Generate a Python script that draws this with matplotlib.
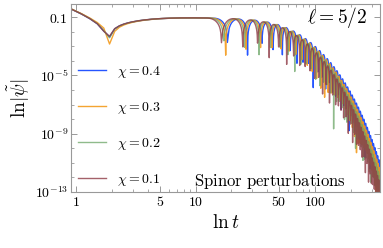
import numpy as np
import matplotlib
matplotlib.use('Agg')
import matplotlib.pyplot as plt
from matplotlib.ticker import FixedLocator, FixedFormatter, NullFormatter

plt.rcParams['mathtext.fontset'] = 'cm'
plt.rcParams['font.family'] = 'serif'
plt.rcParams['font.serif'] = ['DejaVu Serif']

# curves, top of legend first
chi_values = [0.4, 0.3, 0.2, 0.1]
colors = ['#1a4cff', '#f39a1c', '#6aa565', '#8e3a45']
alphas = [0.95, 0.9, 0.75, 0.8]

# waveform parameters
early_level = 0.1                  # plateau of |psi| for 5 < t < 12
fast_amp, fast_tau = 0.325, 0.22   # sharp drop right after t = 0.9
slow_amp = [0.165, 0.176, 0.166, 0.164]   # slow recovery, zero near t ~ 1.8
slow_tau = 1.71
ring_start = [14.2, 13.6, 13.0, 12.4]      # start of ringing
ring_omega = [0.360, 0.366, 0.372, 0.378]  # ringing frequency
decay_onset = [37.8, 37.2, 36.6, 36.0]     # end of the ~0.1 plateau
decay_rate = [0.0318, 0.0332, 0.0347, 0.0362]  # decades per unit t

t = np.arange(0.9, 352.0, 0.2)

x_major = [1, 5, 10, 50, 100]
x_major_labels = ['$1$', '$5$', '$10$', '$50$', '$100$']
x_minor = [2, 3, 4, 6, 7, 8, 9, 20, 30, 40, 60, 70, 80, 90, 200, 300]
y_major = [1e-13, 1e-9, 1e-5, 1e-1]
y_major_labels = ['$10^{-13}$', '$10^{-9}$', '$10^{-5}$', '$0.1$']
y_minor = [10.0 ** k for k in range(-12, 0) if k not in (-9, -5)]

fig = plt.figure(figsize=(3.83, 2.48), dpi=100)
ax = fig.add_axes([0.185, 0.226, 0.807, 0.758])

for i, chi in enumerate(chi_values):
    s = t - 0.9
    early = (early_level - fast_amp * np.exp(-s / fast_tau)
             - slow_amp[i] * np.exp(-s / slow_tau))
    phase = ring_omega[i] * np.clip(t - ring_start[i], 0, None)
    env = 1.0 / (1.0 + 10.0 ** (decay_rate[i] * (t - decay_onset[i])))
    psi = np.abs(early * env * np.cos(phase)) + 1e-30
    ax.plot(t, psi, color=colors[i], alpha=alphas[i], lw=1.0,
            label=r'$\chi = %s$' % chi)

ax.set_xscale('log')
ax.set_yscale('log')
ax.set_xlim(0.9, 352)
ax.set_ylim(1e-13, 0.8)

ax.xaxis.set_major_locator(FixedLocator(x_major))
ax.xaxis.set_major_formatter(FixedFormatter(x_major_labels))
ax.xaxis.set_minor_locator(FixedLocator(x_minor))
ax.xaxis.set_minor_formatter(NullFormatter())
ax.yaxis.set_major_locator(FixedLocator(y_major))
ax.yaxis.set_major_formatter(FixedFormatter(y_major_labels))
ax.yaxis.set_minor_locator(FixedLocator(y_minor))
ax.yaxis.set_minor_formatter(NullFormatter())

ax.tick_params(which='both', direction='in', top=True, right=True,
               color='#999999', labelsize=10, pad=2)
ax.tick_params(which='major', length=4, width=0.7)
ax.tick_params(which='minor', length=2.5, width=0.6)
for sp in ax.spines.values():
    sp.set_color('#999999')
    sp.set_linewidth(0.8)

ax.set_xlabel(r'$\ln t$', fontsize=14, labelpad=4)
ax.set_ylabel(r'$\ln|\tilde{\psi}|$', fontsize=14, labelpad=2)

ax.legend(loc='center left', bbox_to_anchor=(0.01, 0.351), frameon=False,
          fontsize=10, handlelength=2.0, handletextpad=0.8,
          labelspacing=1.45, borderaxespad=0.0, borderpad=0.3)

ax.text(0.96, 0.995, r'$\ell = 5/2$', transform=ax.transAxes,
        ha='right', va='top', fontsize=14)
ax.text(0.89, 0.03, r'$\mathrm{Spinor\ perturbations}$', transform=ax.transAxes,
        ha='right', va='baseline', fontsize=12)

fig.savefig('out.png', dpi=100)
